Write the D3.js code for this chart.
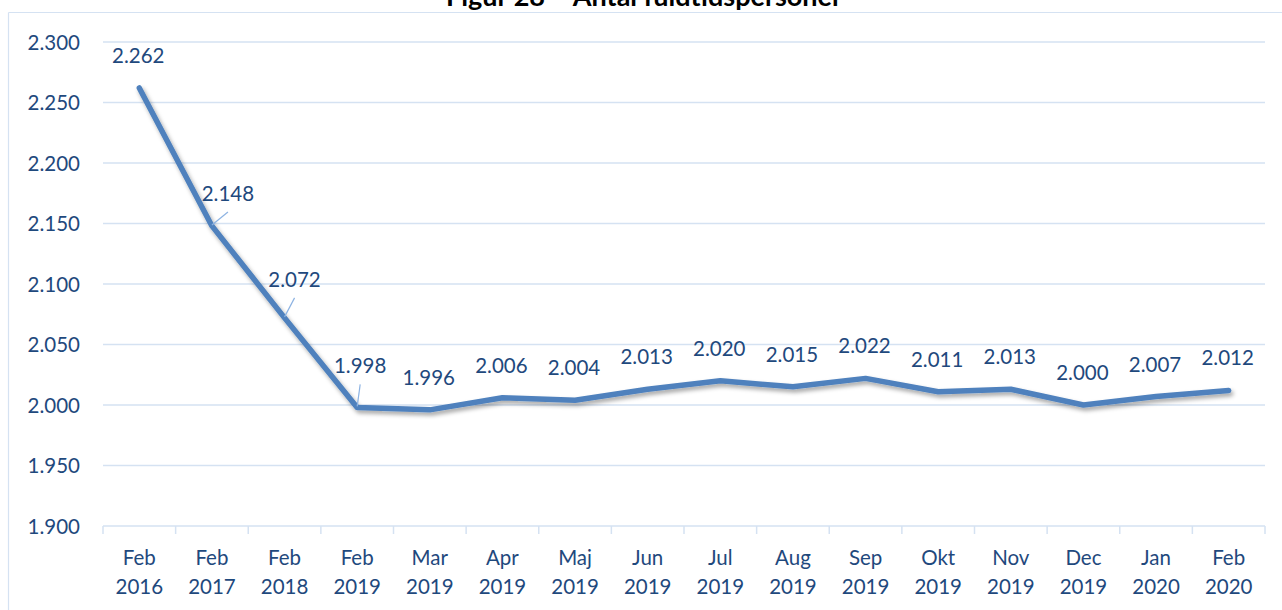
<!DOCTYPE html>
<html>
<head>
<meta charset="utf-8">
<script src="https://cdn.jsdelivr.net/npm/d3@7"></script>
<style>
  html, body { margin: 0; padding: 0; background: #ffffff; }
  svg { display: block; font-family: Lato, "Open Sans", sans-serif; }
</style>
</head>
<body>
<svg id="chart" width="1282" height="610"></svg>
<script>
const title = "Figur 28 \u2013 Antal fuldtidspersoner";
const months = ["Feb","Feb","Feb","Feb","Mar","Apr","Maj","Jun","Jul","Aug","Sep","Okt","Nov","Dec","Jan","Feb"];
const years  = ["2016","2017","2018","2019","2019","2019","2019","2019","2019","2019","2019","2019","2019","2019","2020","2020"];
const values = [2262, 2148, 2072, 1998, 1996, 2006, 2004, 2013, 2020, 2015, 2022, 2011, 2013, 2000, 2007, 2012];
const yTicks = [1900, 1950, 2000, 2050, 2100, 2150, 2200, 2250, 2300];

const categories = months.map((m, i) => i);

const svg = d3.select("#chart");
const W = 1282, H = 610;
const plot = { left: 103, right: 1265, top: 42, bottom: 526 };

const x = d3.scaleBand().domain(categories).range([plot.left, plot.right]).padding(0);
const y = d3.scaleLinear().domain([1900, 2300]).range([plot.bottom, plot.top]);

const fmt = v => d3.format(",")(v).replace(/,/g, ".");
const gridColor = "#d5e2f2";
const labelColor = "#1f497d";

// shadow filter
const defs = svg.append("defs");
const f = defs.append("filter").attr("id", "shadow").attr("x", "-5%").attr("y", "-20%").attr("width", "110%").attr("height", "140%");
f.append("feDropShadow").attr("dx", 2).attr("dy", 3).attr("stdDeviation", 2.2)
  .attr("flood-color", "#000").attr("flood-opacity", 0.35);

// chart frame (cropped)
svg.append("line").attr("x1", 8.5).attr("x2", 8.5).attr("y1", 12.5).attr("y2", H)
  .attr("stroke", gridColor).attr("stroke-width", 1.2);
svg.append("line").attr("x1", 8.5).attr("x2", W).attr("y1", 12.5).attr("y2", 12.5)
  .attr("stroke", gridColor).attr("stroke-width", 1.2);

// title (cropped at the top edge, as in the reference)
svg.append("text").attr("x", 644).attr("y", 6).attr("text-anchor", "middle")
  .attr("font-weight", "bold").attr("font-size", "27px").attr("fill", "#000")
  .text(title);

// gridlines
svg.append("g").selectAll("line").data(yTicks).join("line")
  .attr("x1", plot.left).attr("x2", plot.right)
  .attr("y1", d => y(d)).attr("y2", d => y(d))
  .attr("stroke", gridColor).attr("stroke-width", 1.5);

// y axis labels
const yAxis = d3.axisLeft(y).tickValues(yTicks).tickFormat(fmt).tickSize(0).tickPadding(0);
const gy = svg.append("g").attr("transform", `translate(80,0)`).call(yAxis);
gy.select(".domain").remove();
gy.selectAll("text").attr("font-size", "20.5px").attr("fill", labelColor)
  .attr("font-family", "Lato, 'Open Sans', sans-serif").attr("dy", "0.36em");

// x axis ticks at category boundaries
const boundaries = categories.map(c => x(c)).concat([x(categories[categories.length - 1]) + x.bandwidth()]);
svg.append("g").selectAll("line").data(boundaries).join("line")
  .attr("x1", d => d).attr("x2", d => d)
  .attr("y1", plot.bottom).attr("y2", plot.bottom + 8)
  .attr("stroke", gridColor).attr("stroke-width", 1.5);

// x labels
const xl = svg.append("g").selectAll("text").data(categories).join("text")
  .attr("x", d => x(d) + x.bandwidth() / 2)
  .attr("text-anchor", "middle").attr("font-size", "20.5px").attr("fill", labelColor);
xl.append("tspan").attr("x", d => x(d) + x.bandwidth() / 2).attr("y", 565).text(d => months[d]);
xl.append("tspan").attr("x", d => x(d) + x.bandwidth() / 2).attr("y", 594).text(d => years[d]);

// line
const cx = i => x(i) + x.bandwidth() / 2;
const line = d3.line().x((d, i) => cx(i)).y(d => y(d));
svg.append("path").datum(values).attr("d", line)
  .attr("fill", "none").attr("stroke", "#4f81bd").attr("stroke-width", 5.5)
  .attr("stroke-linejoin", "round").attr("stroke-linecap", "round")
  .attr("filter", "url(#shadow)");

// data labels (manually moved labels get leader lines)
const moved = { 1: { dx: 16, dy: -25 }, 2: { dx: 10, dy: -31 }, 3: { dx: 3, dy: -34 } };
const lg = svg.append("g");
values.forEach((v, i) => {
  const px = cx(i), py = y(v);
  const off = moved[i] || { dx: -1, dy: -25 };
  const lx = px + off.dx, ly = py + off.dy;
  if (moved[i]) {
    lg.append("line").attr("x1", px).attr("y1", py - 1)
      .attr("x2", lx).attr("y2", ly + 11)
      .attr("stroke", "#8db3e2").attr("stroke-width", 1.2);
  }
  lg.append("text").attr("x", lx).attr("y", ly).attr("text-anchor", "middle")
    .attr("font-size", "20.5px").attr("fill", labelColor).text(fmt(v));
});
</script>
</body>
</html>
